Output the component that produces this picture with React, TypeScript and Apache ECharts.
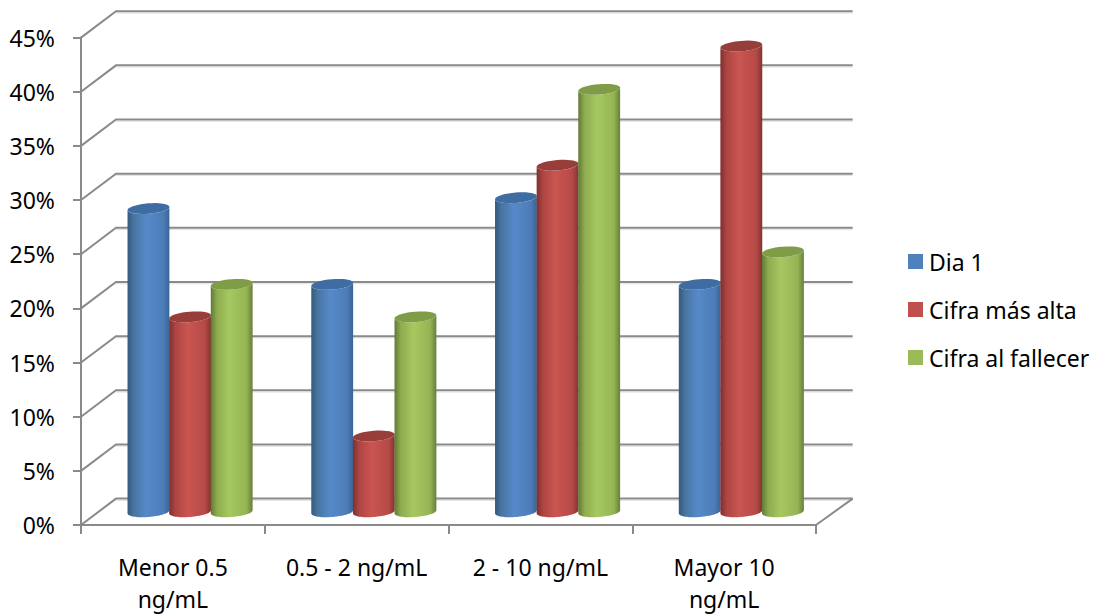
import React, { useEffect, useRef } from "react";
import * as echarts from "echarts";

const categories = ["Menor 0.5\nng/mL", "0.5 - 2 ng/mL", "2 - 10 ng/mL", "Mayor 10\nng/mL"];
const dia1 = [28, 21, 29, 21];
const cifraMasAlta = [18, 7, 32, 43];
const cifraAlFallecer = [21, 18, 39, 24];
const wallTicks = [0, 5, 10, 15, 20, 25, 30, 35, 40, 45];

const FONT = "Noto Sans";
const LINE = "#8a8a8a";
// Depth of the chart box, as a screen offset from the front plane to the back wall.
const DEPTH_X = 35;
const DEPTH_Y = 26.4;
const RIGHT_FLARE = 1.7;

const ramp = (stops: string[]) =>
  new echarts.graphic.LinearGradient(
    0, 0, 1, 0,
    stops.map((color, i) => ({ offset: [0, 0.15, 0.45, 0.85, 1][i], color }))
  );

const palette = [
  { flat: "#4f81bd", top: "#3f6ca2", side: ["#35587f", "#48759f", "#5689ca", "#4c7db8", "#3a6594"] },
  { flat: "#c0504d", top: "#973e3b", side: ["#7d302e", "#ad4542", "#ca5551", "#b64a47", "#843431"] },
  { flat: "#9bbb59", top: "#7f9c47", side: ["#617a35", "#8eac4f", "#a6c860", "#96b454", "#66803a"] },
];

function ellipsePoints(cx: number, cy: number, rx: number, ry: number, tilt: number, from: number, to: number) {
  const pts: number[][] = [];
  const n = 36;
  for (let i = 0; i <= n; i++) {
    const a = from + ((to - from) * i) / n;
    const ex = rx * Math.cos(a);
    const ey = ry * Math.sin(a);
    pts.push([cx + ex * Math.cos(tilt) - ey * Math.sin(tilt), cy + ex * Math.sin(tilt) + ey * Math.cos(tilt)]);
  }
  return pts;
}

// One cylinder per data item: sits halfway into the depth of the box, on its own slot in the category band.
const cylinder = (slot: number) => (_params: any, api: any) => {
  const band = api.size([1, 0])[0];
  const width = band * 0.2285;
  const topAt = api.coord([api.value(0), api.value(1)]);
  const baseAt = api.coord([api.value(0), 0]);
  const cx = topAt[0] + DEPTH_X / 2 - 0.3 + (slot - 1) * band * 0.2265;
  const rx = width / 2;
  const ry = 5.2;
  const tilt = -0.08;
  const topY = topAt[1] - DEPTH_Y / 2;
  const baseY = baseAt[1] - DEPTH_Y / 2;
  const body = [
    ...ellipsePoints(cx, baseY, rx, ry, tilt, Math.PI, 0),
    ...ellipsePoints(cx, topY, rx, ry, tilt, 0, Math.PI),
  ];
  const c = palette[slot];
  return {
    type: "group",
    children: [
      { type: "polygon", shape: { points: body.slice().reverse() }, style: { fill: ramp(c.side) } },
      { type: "polygon", shape: { points: ellipsePoints(cx, topY, rx, ry, tilt, 0, Math.PI * 2) }, style: { fill: c.top } },
    ],
  };
};

// Side wall diagonals, back wall lines and the floor's right edge.
const wallFrame = (params: any, api: any) => {
  const sys = params.coordSys;
  const tick = api.value(1);
  const y = api.coord([0, tick])[1];
  const left = sys.x;
  const right = sys.x + sys.width;
  const backRight = right + DEPTH_X + RIGHT_FLARE;
  const style = { stroke: LINE, lineWidth: 2, fill: "none" };
  const children: any[] = [
    {
      type: "line",
      shape: { x1: left + DEPTH_X, y1: y - DEPTH_Y + 1.8, x2: backRight, y2: y - DEPTH_Y + 1.8 },
      style: { stroke: "#e2e2e2", lineWidth: 1 },
    },
    {
      type: "polyline",
      shape: { points: [[left, y], [left + DEPTH_X, y - DEPTH_Y], [backRight, y - DEPTH_Y]] },
      style,
    },
  ];
  if (tick === 0) {
    children.push({
      type: "line",
      shape: { x1: right, y1: y, x2: backRight, y2: y - DEPTH_Y },
      style,
    });
  }
  return { type: "group", children };
};

export default function App() {
  const ref = useRef<HTMLDivElement>(null);
  useEffect(() => {
    const chart = echarts.init(ref.current!, null, { renderer: "svg" });
    const series = [
      { name: "Dia 1", values: dia1 },
      { name: "Cifra más alta", values: cifraMasAlta },
      { name: "Cifra al fallecer", values: cifraAlFallecer },
    ];
    chart.setOption({
      animation: false,
      backgroundColor: "#ffffff",
      grid: { left: 81, top: 37.6, width: 735, height: 487.8, containLabel: false },
      xAxis: {
        type: "category",
        data: categories,
        axisLine: { lineStyle: { color: LINE, width: 2 } },
        axisTick: { show: true, length: 9, lineStyle: { color: LINE, width: 2 } },
        axisLabel: { color: "#000", fontFamily: FONT, fontSize: 23, lineHeight: 32, margin: 26, interval: 0 },
        splitLine: { show: false },
      },
      yAxis: {
        type: "value",
        min: 0,
        max: 45,
        interval: 5,
        axisLine: { show: true, lineStyle: { color: LINE, width: 2 } },
        axisTick: { show: true, length: 8, lineStyle: { color: LINE, width: 2 } },
        axisLabel: { color: "#000", fontFamily: FONT, fontSize: 23, margin: 26, formatter: "{value}%" },
        splitLine: { show: false },
      },
      legend: {
        data: series.map((s) => s.name),
        orient: "vertical",
        left: 908,
        top: 250,
        padding: 0,
        icon: "rect",
        itemWidth: 15,
        itemHeight: 15,
        itemGap: 25,
        textStyle: { color: "#000", fontFamily: FONT, fontSize: 23, padding: [0, 0, 0, 1] },
      },
      series: [
        {
          type: "custom",
          silent: true,
          clip: false,
          renderItem: wallFrame,
          data: wallTicks.map((t) => [0, t]),
          z: 1,
        },
        ...series.map((s, slot) => ({
          type: "custom",
          name: s.name,
          clip: false,
          z: 2 + slot,
          itemStyle: { color: palette[slot].flat },
          renderItem: cylinder(slot),
          data: s.values.map((v, i) => [i, v]),
        })),
      ],
    });
    return () => chart.dispose();
  }, []);
  return <div ref={ref} style={{ position: "fixed", left: 0, top: 0, width: 1095, height: 615 }} />;
}
